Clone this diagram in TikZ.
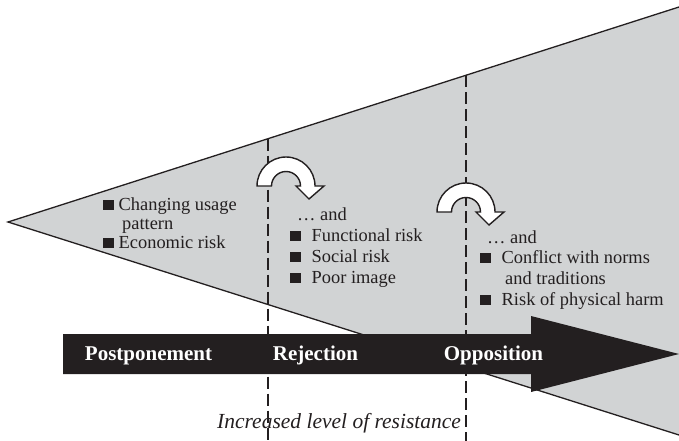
\documentclass[tikz,border=0pt]{standalone}
\usepackage{fontspec}
\setmainfont{Liberation Serif}
\definecolor{wedge}{HTML}{D1D3D4}
\definecolor{ink}{HTML}{231F20}
\newcommand{\sqb}{\textcolor{ink}{\rule{10.5pt}{10pt}}}
\begin{document}
\begin{tikzpicture}[x=1pt,y=1pt,
  txt/.style={anchor=base west, inner sep=0pt, font=\fontsize{18.4}{20}\selectfont, text=ink},
  lbl/.style={anchor=base, inner sep=0pt, font=\fontsize{21}{24}\selectfont\bfseries, text=white},
  dline/.style={draw=ink, line width=1.1pt, dash pattern=on 12pt off 5pt},
  uturn/.style={fill=white, draw=ink, line width=1.4pt, line join=miter},
  uturnpic/.pic={\draw[uturn] (-29,0) arc[start angle=180, end angle=0, radius=29] -- (38,0) -- (23,-13) -- (10,0) -- (14.5,0) arc[start angle=0, end angle=180, radius=14.5] -- cycle;}]
\useasboundingbox (0,0) rectangle (679,-441);
% wedge
\coordinate (apex) at (8,-222);
\coordinate (wtop) at (679,-7);
\coordinate (wbot) at (679,-435);
\fill[wedge] (apex) -- (wtop) -- (wbot) -- cycle;
\draw[ink, line width=1.3pt] (wtop) -- (apex) -- (wbot);
% bottom caption
\node[anchor=base west, inner sep=0pt, font=\fontsize{21.5}{24}\selectfont\itshape, text=ink] (resist) at (217,-428) {Increased level of resistance};
% dashed stage borders
\coordinate (d1top) at (268,-138.7);
\coordinate (d1bot) at (268,-441);
\coordinate (d2top) at (466,-75.2);
\coordinate (d2bot) at (466,-441);
\draw[dline] (d1top) -- (d1bot);
\draw[dline] (d2top) -- (d2bot);
% main arrow
\fill[ink] (63,-334) -- (531,-334) -- (531,-316) -- (679,-354) -- (531,-392) -- (531,-374) -- (63,-374) -- cycle;
\node[lbl] (post) at (148.5,-360) {Postponement};
\node[lbl] (rej) at (315.5,-360) {Rejection};
\node[lbl] (opp) at (493.5,-360) {Opposition};
% u-turn arrows
\pic (u1) at (286,-186) {uturnpic};
\pic (u2) at (466,-212) {uturnpic};
% column 1
\node[txt] (c1a) at (103,-210) {\sqb\hspace{5pt}Changing usage};
\node[txt] (c1b) at (122,-229) {pattern};
\node[txt] (c1c) at (103,-248) {\sqb\hspace{5pt}Economic risk};
% column 2
\node[txt] (c2a) at (297,-220) {… and};
\node[txt] (c2b) at (290,-241) {\sqb\hspace{11pt}Functional risk};
\node[txt] (c2c) at (290,-262) {\sqb\hspace{11pt}Social risk};
\node[txt] (c2d) at (290,-283) {\sqb\hspace{11pt}Poor image};
% column 3
\node[txt] (c3a) at (487,-243) {… and};
\node[txt] (c3b) at (480,-263) {\sqb\hspace{11pt}Conflict with norms};
\node[txt] (c3c) at (505,-284) {and traditions};
\node[txt] (c3d) at (480,-305) {\sqb\hspace{11pt}Risk of physical harm};
\end{tikzpicture}
\end{document}
